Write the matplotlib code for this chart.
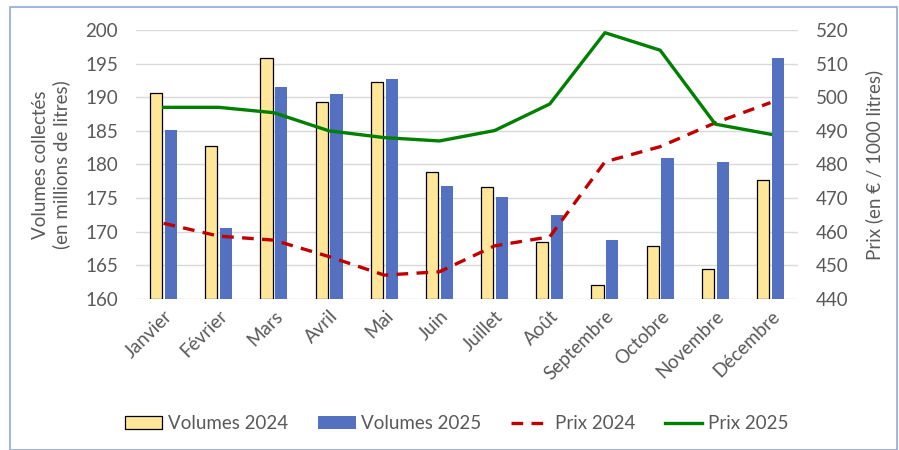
import matplotlib
matplotlib.use("Agg")
import matplotlib.pyplot as plt
import numpy as np
from matplotlib.patches import Patch, Rectangle
from matplotlib.lines import Line2D

months = ["Janvier", "Février", "Mars", "Avril", "Mai", "Juin", "Juillet",
          "Août", "Septembre", "Octobre", "Novembre", "Décembre"]
volumes_2024 = [190.6, 182.7, 195.9, 189.3, 192.3, 178.9, 176.7, 168.5, 162.1, 167.9, 164.4, 177.7]
volumes_2025 = [185.2, 170.5, 191.5, 190.5, 192.7, 176.8, 175.1, 172.5, 168.8, 180.9, 180.3, 195.9]
prix_2024 = [462.5, 458.7, 457.5, 452.6, 447.1, 448.1, 455.8, 458.5, 480.8, 485.3, 492.4, 498.4]
prix_2025 = [497.0, 497.0, 495.4, 490.0, 488.0, 487.0, 490.1, 498.0, 519.2, 514.0, 492.0, 489.0]
left_ticks = [160, 165, 170, 175, 180, 185, 190, 195, 200]
right_ticks = [440, 450, 460, 470, 480, 490, 500, 510, 520]

plt.rcParams['font.family'] = ['Lato', 'DejaVu Sans']
grey = '#595959'
yellow = '#FFE699'
blue = '#5470C1'
red = '#C00000'
green = '#008000'
fs = 13.5

fig = plt.figure(figsize=(8.99, 4.5), dpi=100)
ax = fig.add_axes([0.1513, 0.3356, 0.7364, 0.5977])
ax2 = ax.twinx()

x = np.arange(len(months))
w = 0.22
off = 0.135
ax.bar(x - off, np.array(volumes_2024) - 160, bottom=160, width=w, color=yellow,
       edgecolor='#000000', linewidth=0.9, zorder=3)
ax.bar(x + off, np.array(volumes_2025) - 160, bottom=160, width=w, color=blue,
       edgecolor='none', zorder=3)
ax.set_ylim(160, 200)
ax.set_xlim(-0.5, len(months) - 0.5)
ax.set_yticks(left_ticks)
ax.grid(axis='y', color='#D9D9D9', linewidth=1.0, zorder=0)
ax.set_axisbelow(True)
for s in ax.spines.values():
    s.set_visible(False)
for s in ax2.spines.values():
    s.set_visible(False)
ax.tick_params(axis='both', length=0, colors=grey, labelsize=fs)
ax.tick_params(axis='y', pad=13)
ax.set_xticks(x)
ax.set_xticklabels(months, rotation=45, ha='right', rotation_mode='anchor')
ax.tick_params(axis='x', pad=6)
ax.set_ylabel("Volumes collectés\n(en millions de litres)", color=grey, fontsize=fs, labelpad=11)

ax2.plot(x, prix_2024, color=red, linestyle=(0, (3.5, 2.5)), linewidth=2.4, zorder=4)
ax2.plot(x, prix_2025, color=green, linewidth=2.4, zorder=4)
ax2.set_ylim(440, 520)
ax2.set_yticks(right_ticks)
ax2.tick_params(axis='y', length=0, colors=grey, labelsize=fs, pad=13)
ax2.set_ylabel("Prix (en € / 1000 litres)", color=grey, fontsize=fs, labelpad=12)

handles = [Patch(facecolor=yellow, edgecolor='#000000', linewidth=0.9),
           Patch(facecolor=blue, edgecolor='none'),
           Line2D([0], [0], color=red, linestyle=(0, (3.5, 2.5)), linewidth=2.4),
           Line2D([0], [0], color=green, linewidth=2.4)]
labels = ["Volumes 2024", "Volumes 2025", "Prix 2024", "Prix 2025"]
leg = fig.legend(handles, labels, loc='center', bbox_to_anchor=(0.508, 0.058), ncol=4,
                 frameon=False, fontsize=fs, handlelength=2.0, handletextpad=0.3,
                 columnspacing=1.6)
for t in leg.get_texts():
    t.set_color(grey)

fig.patches.append(Rectangle((10 / 899, 0.0), 887 / 899, 1 - 7 / 450, transform=fig.transFigure,
                             fill=False, edgecolor='#8EA9DB', linewidth=1.2))

fig.savefig("out.png", dpi=100)
